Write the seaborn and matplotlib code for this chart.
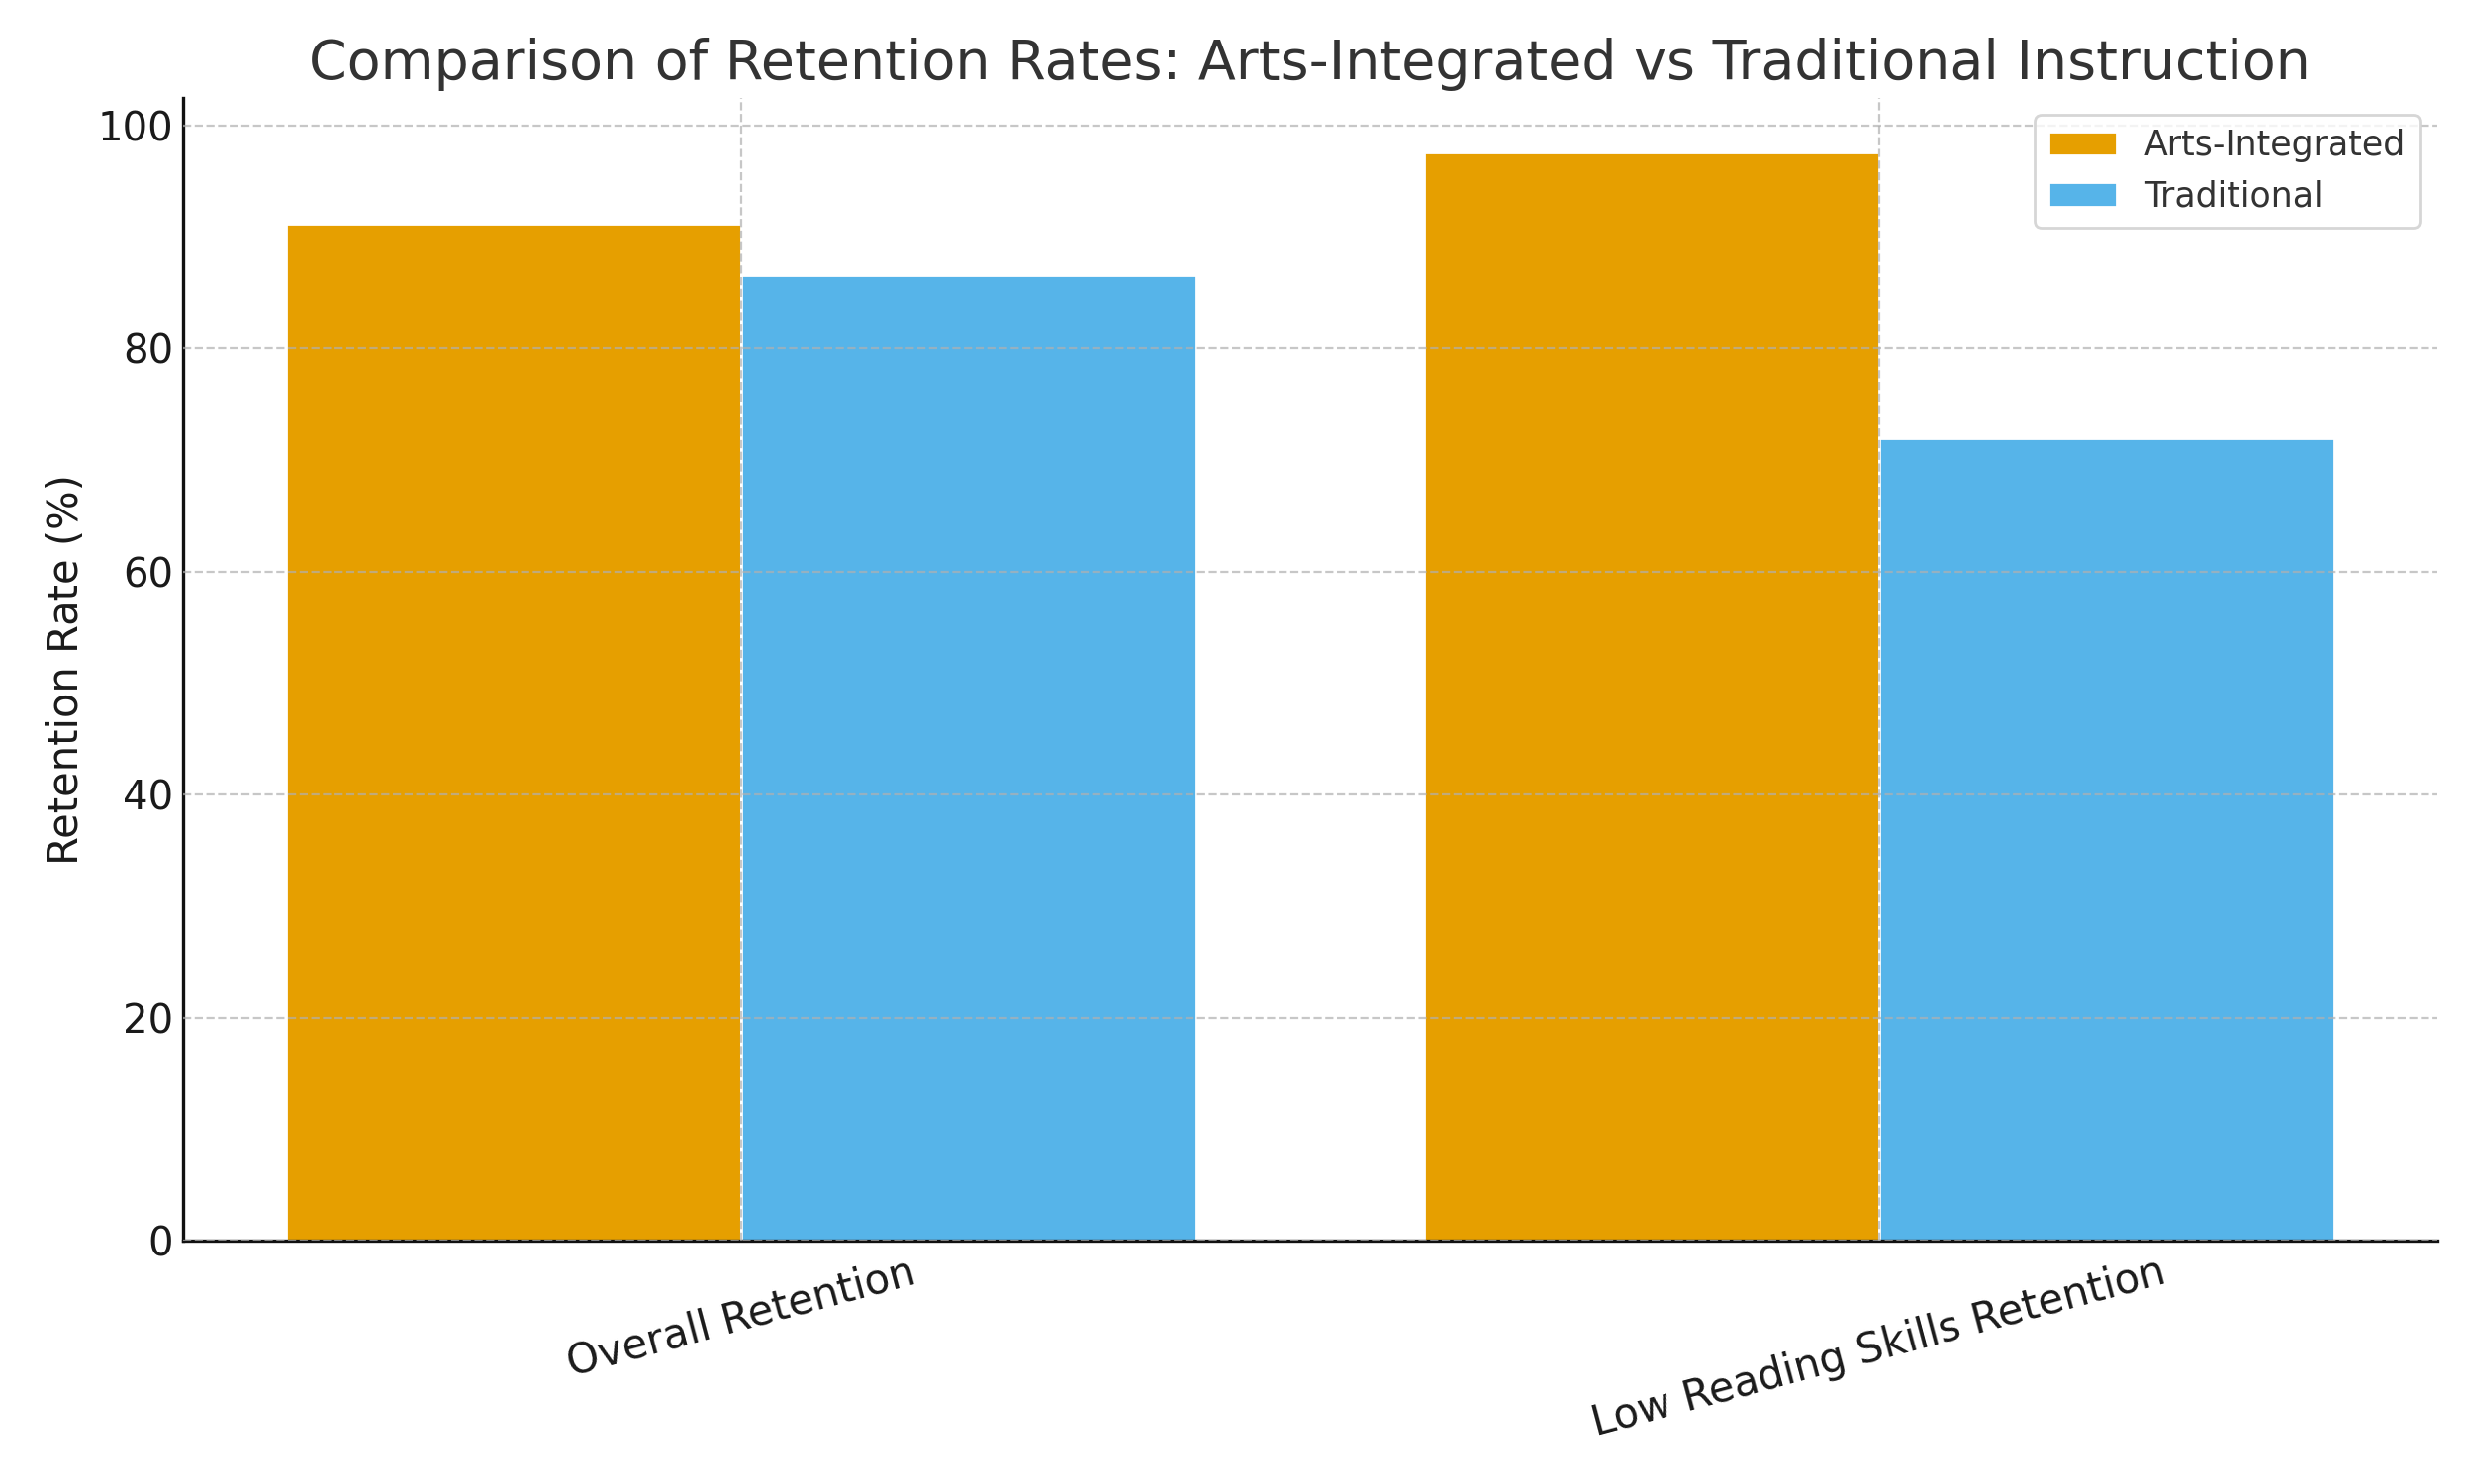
import matplotlib
matplotlib.use("Agg")
import matplotlib.pyplot as plt
import pandas as pd
import seaborn as sns

# values
categories = ["Overall Retention", "Low Reading Skills Retention"]
methods = ["Arts-Integrated", "Traditional"]
arts_integrated = [91.2, 97.6]
traditional = [86.6, 72.0]
palette = {"Arts-Integrated": "#E69F00", "Traditional": "#56B4E9"}

df = pd.DataFrame({
    "Category": categories * 2,
    "Method": [methods[0]] * len(categories) + [methods[1]] * len(categories),
    "Retention": arts_integrated + traditional,
})

sns.set_style("white")
plt.rcParams["font.family"] = ["DejaVu Sans"]
plt.rcParams["text.color"] = "#333333"

fig, ax = plt.subplots(figsize=(12.5, 7.5), dpi=200)
sns.barplot(data=df, x="Category", y="Retention", hue="Method",
            palette=palette, errorbar=None, saturation=1, ax=ax)

ax.set_xlim(-0.49, 1.49)
ax.set_axisbelow(False)
ax.grid(True, linestyle="--", color="#b0b0b0", alpha=0.7, linewidth=0.8)
sns.despine(ax=ax)
for side in ("left", "bottom"):
    ax.spines[side].set_color("#111111")
    ax.spines[side].set_linewidth(1.2)
ax.tick_params(axis="both", direction="in", colors="#1a1a1a")
ax.tick_params(axis="y", labelsize=14.5)
ax.tick_params(axis="x", labelsize=15, rotation=15, pad=4)

ax.set_title("Comparison of Retention Rates: Arts-Integrated vs Traditional Instruction",
             fontsize=20, color="#333333", pad=7)
ax.set_xlabel("")
ax.set_ylabel("Retention Rate (%)", fontsize=15, color="#1a1a1a")

leg = ax.legend(title=None, loc="upper right", fontsize=12.5, frameon=True)
leg.get_frame().set_edgecolor("#cccccc")

fig.subplots_adjust(left=0.074, right=0.985, top=0.934, bottom=0.164)
plt.savefig("out.png", dpi=200)
plt.close()
